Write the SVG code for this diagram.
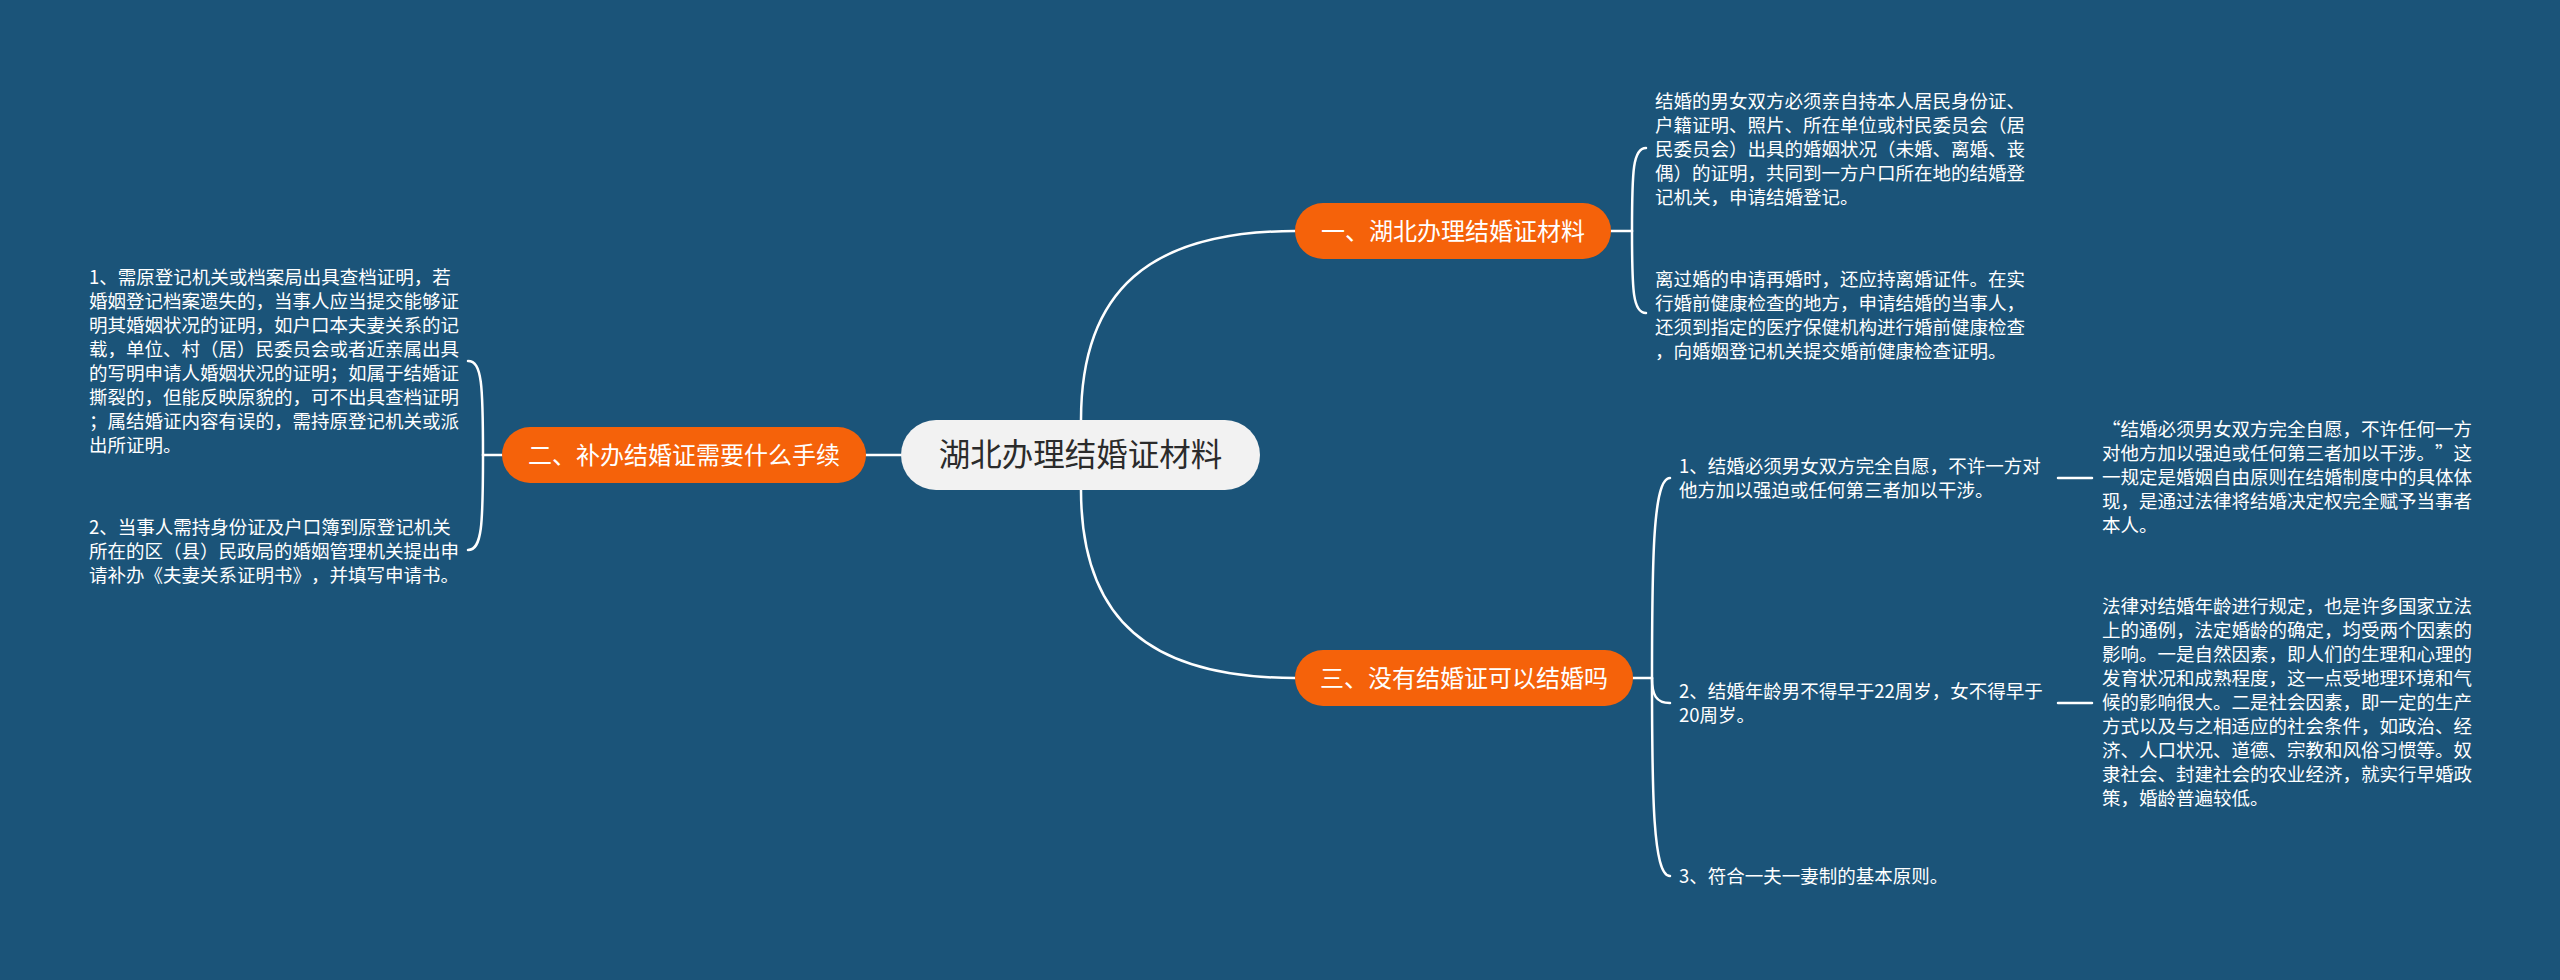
<svg xmlns="http://www.w3.org/2000/svg" width="2560" height="980" viewBox="0 0 2560 980">
<style>
.bg{fill:#1b5479}
.conn path,.conn line{fill:none;stroke:#ffffff;stroke-width:2.5;stroke-linecap:round}
.pill{fill:#f5620a}
.lbl{font-family:"Noto Sans CJK SC","Noto Sans",sans-serif;font-size:24px;fill:#ffffff;text-anchor:middle;text-spacing-trim:space-all}
.root-rect{fill:#f2f2f2}
.root-lbl{font-family:"Noto Sans CJK SC","Noto Sans",sans-serif;font-size:31.5px;fill:#2b2b2b;text-anchor:middle}
.txt{font-family:"Noto Sans CJK SC","Noto Sans",sans-serif;font-size:18.5px;fill:#ffffff;text-spacing-trim:space-all}
.fw{font-feature-settings:"fwid" 1}
</style>
<rect class="bg" x="0" y="0" width="2560" height="980"/>
<g id="connectors" class="conn">
<path d="M1081,420 C1081,290 1150,231 1295,231"/>
<path d="M1081,490 C1081,620 1150,678 1295,678"/>
<line x1="866" y1="455" x2="901" y2="455"/>
<line x1="1611" y1="231" x2="1632" y2="231"/>
<path d="M1632,231 C1632,170 1633,148 1646,148"/>
<path d="M1632,231 C1632,292 1633,313 1646,313"/>
<line x1="483" y1="455" x2="502" y2="455"/>
<path d="M483,455 C483,385 482,361 468,361"/>
<path d="M483,455 C483,525 482,550 468,550"/>
<line x1="1633" y1="678" x2="1652" y2="678"/>
<path d="M1652,678 C1652,560 1653,478 1670,478"/>
<path d="M1652,678 C1652,695 1656,703 1670,703"/>
<path d="M1652,678 C1652,796 1653,876 1670,876"/>
<line x1="2058" y1="478" x2="2092" y2="478"/>
<line x1="2058" y1="703" x2="2092" y2="703"/>
</g>
<g id="root">
<rect class="root-rect" x="901" y="420" width="359" height="70" rx="35"/>
<text class="root-lbl" x="1080.5" y="466">湖北办理结婚证材料</text>
</g>
<g id="node1">
<rect class="pill" x="1295" y="203" width="316" height="56" rx="28"/>
<text class="lbl" x="1453" y="240">一、湖北办理结婚证材料</text>
</g>
<g id="node2">
<rect class="pill" x="502" y="427" width="364" height="56" rx="28"/>
<text class="lbl" x="684" y="464">二、补办结婚证需要什么手续</text>
</g>
<g id="node3">
<rect class="pill" x="1295" y="650" width="338" height="56" rx="28"/>
<text class="lbl" x="1464" y="687">三、没有结婚证可以结婚吗</text>
</g>
<g id="n1c1">
<text class="txt"><tspan x="1655" y="108">结婚的男女双方必须亲自持本人居民身份证、</tspan><tspan x="1655" y="132">户籍证明、照片、所在单位或村民委员会（居</tspan><tspan x="1655" y="156">民委员会）出具的婚姻状况（未婚、离婚、丧</tspan><tspan x="1655" y="180">偶）的证明，共同到一方户口所在地的结婚登</tspan><tspan x="1655" y="204">记机关，申请结婚登记。</tspan></text>
</g>
<g id="n1c2">
<text class="txt"><tspan x="1655" y="286">离过婚的申请再婚时，还应持离婚证件。在实</tspan><tspan x="1655" y="310">行婚前健康检查的地方，申请结婚的当事人，</tspan><tspan x="1655" y="334">还须到指定的医疗保健机构进行婚前健康检查</tspan><tspan x="1655" y="358">，向婚姻登记机关提交婚前健康检查证明。</tspan></text>
</g>
<g id="n2c1">
<text class="txt"><tspan x="89" y="284">1、需原登记机关或档案局出具查档证明，若</tspan><tspan x="89" y="308">婚姻登记档案遗失的，当事人应当提交能够证</tspan><tspan x="89" y="332">明其婚姻状况的证明，如户口本夫妻关系的记</tspan><tspan x="89" y="356">载，单位、村（居）民委员会或者近亲属出具</tspan><tspan x="89" y="380">的写明申请人婚姻状况的证明；如属于结婚证</tspan><tspan x="89" y="404">撕裂的，但能反映原貌的，可不出具查档证明</tspan><tspan x="89" y="428">；属结婚证内容有误的，需持原登记机关或派</tspan><tspan x="89" y="452">出所证明。</tspan></text>
</g>
<g id="n2c2">
<text class="txt"><tspan x="89" y="534">2、当事人需持身份证及户口簿到原登记机关</tspan><tspan x="89" y="558">所在的区（县）民政局的婚姻管理机关提出申</tspan><tspan x="89" y="582">请补办《夫妻关系证明书》，并填写申请书。</tspan></text>
</g>
<g id="n3c1">
<text class="txt"><tspan x="1679" y="473">1、结婚必须男女双方完全自愿，不许一方对</tspan><tspan x="1679" y="497">他方加以强迫或任何第三者加以干涉。</tspan></text>
</g>
<g id="n3c1g">
<text class="txt"><tspan class="fw" x="2102" y="436">“结婚必须男女双方完全自愿，不许任何一方</tspan><tspan class="fw" x="2102" y="460">对他方加以强迫或任何第三者加以干涉。”这</tspan><tspan x="2102" y="484">一规定是婚姻自由原则在结婚制度中的具体体</tspan><tspan x="2102" y="508">现，是通过法律将结婚决定权完全赋予当事者</tspan><tspan x="2102" y="532">本人。</tspan></text>
</g>
<g id="n3c2">
<text class="txt"><tspan x="1679" y="698">2、结婚年龄男不得早于22周岁，女不得早于</tspan><tspan x="1679" y="722">20周岁。</tspan></text>
</g>
<g id="n3c2g">
<text class="txt"><tspan x="2102" y="613">法律对结婚年龄进行规定，也是许多国家立法</tspan><tspan x="2102" y="637">上的通例，法定婚龄的确定，均受两个因素的</tspan><tspan x="2102" y="661">影响。一是自然因素，即人们的生理和心理的</tspan><tspan x="2102" y="685">发育状况和成熟程度，这一点受地理环境和气</tspan><tspan x="2102" y="709">候的影响很大。二是社会因素，即一定的生产</tspan><tspan x="2102" y="733">方式以及与之相适应的社会条件，如政治、经</tspan><tspan x="2102" y="757">济、人口状况、道德、宗教和风俗习惯等。奴</tspan><tspan x="2102" y="781">隶社会、封建社会的农业经济，就实行早婚政</tspan><tspan x="2102" y="805">策，婚龄普遍较低。</tspan></text>
</g>
<g id="n3c3">
<text class="txt"><tspan x="1679" y="883">3、符合一夫一妻制的基本原则。</tspan></text>
</g>
</svg>
